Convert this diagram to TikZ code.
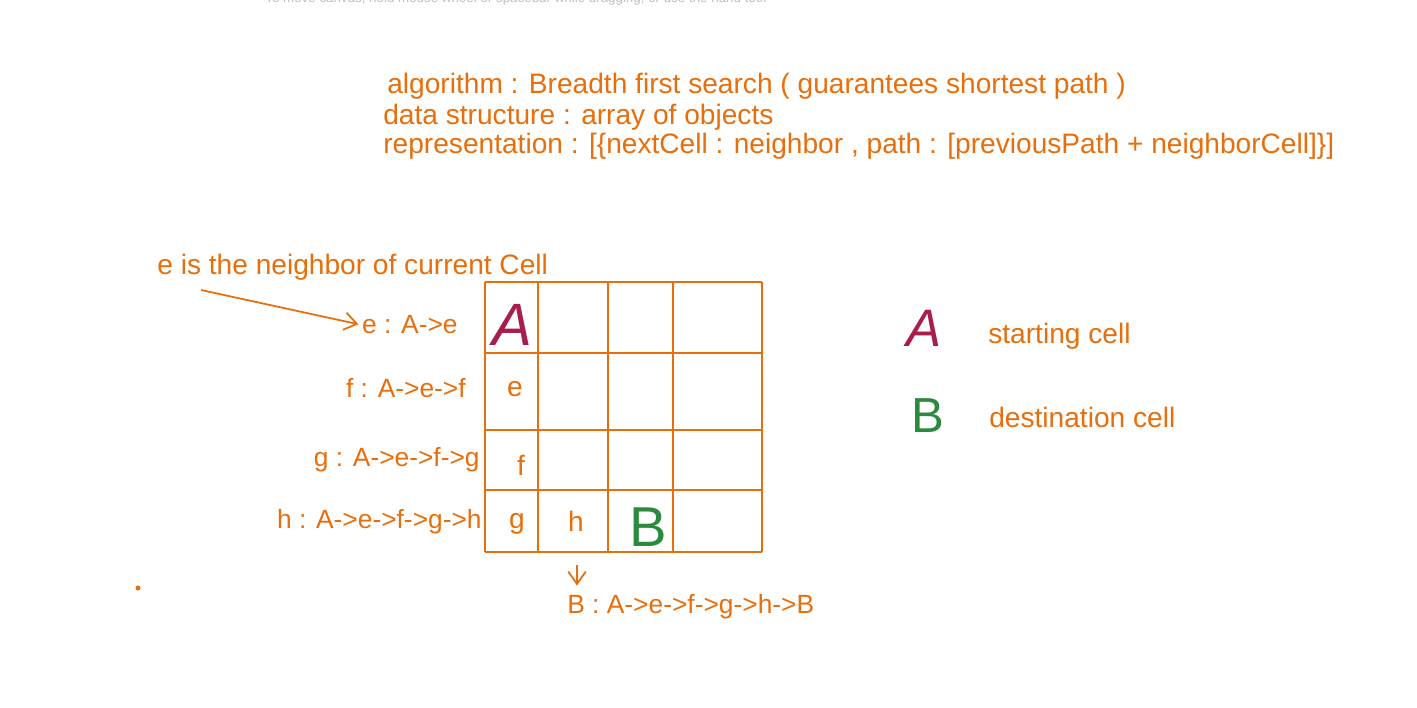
\documentclass[tikz,border=0pt]{standalone}
\usepackage{fontspec}
\setmainfont{Liberation Sans}
\usetikzlibrary{arrows.meta, positioning}
\definecolor{sketch}{RGB}{232,110,12}
\definecolor{startc}{RGB}{166,30,77}
\definecolor{destc}{RGB}{43,138,62}
\definecolor{hint}{RGB}{190,190,190}
\def\txtSize{16}
% grid lines, in pixels
\def\colLines{485,538,608,673,762}
\def\rowLines{282,353,430,490,552}
\begin{document}
\begin{tikzpicture}[
    x=0.02cm, y=-0.02cm,
    >={Straight Barb[length=2.5mm,width=3.5mm]},
    every node/.style={inner sep=0pt, text=sketch},
    note/.style={anchor=west, font=\fontsize{\txtSize}{18}\selectfont},
    label/.style={anchor=east, font=\fontsize{15}{18}\selectfont},
    cell/.style={font=\fontsize{\txtSize}{18}\selectfont},
    bigA/.style={text=startc, font=\fontsize{34}{36}\selectfont\itshape},
    bigB/.style={text=destc, font=\fontsize{32}{34}\selectfont},
    link/.style={draw=sketch, line width=1pt, ->}
]
\useasboundingbox (0,0) rectangle (1417,707);

\node[anchor=west, text=hint, font=\fontsize{7.6}{9}\selectfont] (hint) at (265,-1)
    {To move canvas, hold mouse wheel or spacebar while dragging, or use the hand tool};

% description
\node[note] (algo) at (387,86) {algorithm : Breadth first search ( guarantees shortest path )};
\node[note] (ds) at (383,117) {data structure : array of objects};
\node[note] (repr) at (383,146) {representation : [\{nextCell : neighbor , path : [previousPath + neighborCell]\}]};

% grid
\foreach \x in \colLines
    \draw[sketch, line width=1.2pt] (\x,282) -- (\x,552);
\foreach \y in \rowLines
    \draw[sketch, line width=1.2pt] (485,\y) -- (762,\y);

\node[bigA] (cellA) at (512,325) {A};
\node[cell] (cellE) at (515,389) {e};
\node[cell] (cellF) at (521,465) {f};
\node[cell] (cellG) at (517,524) {g};
\node[cell] (cellH) at (576,521) {h};
\node[bigB] (cellB) at (648,527) {B};

% paths on the left
\node[note] (comment) at (157,267) {e is the neighbor of current Cell};
\node[label] (pathE) at (458,325) {e : A->e};
\node[label] (pathF) at (466,388) {f : A->e->f};
\node[label] (pathG) at (480,460) {g : A->e->f->g};
\node[label] (pathH) at (482,522) {h : A->e->f->g->h};
\node[note, font=\fontsize{15}{18}\selectfont] (pathB) at (567,607) {B : A->e->f->g->h->B};

\coordinate (tail) at (201,290);
\draw[link, shorten >=2pt] (tail) -- (pathE.west);
\coordinate (drop) at (577,565);
\draw[link, shorten >=5pt] (drop) -- (drop |- pathB.north);

\fill[sketch] (138,588) circle (2.5);

% legend
\node[bigA, font=\fontsize{30}{32}\selectfont\itshape] (keyA) at (924,328) {A};
\node[note] (keyAtxt) at (988,336) {starting cell};
\node[bigB, font=\fontsize{28}{30}\selectfont] (keyB) at (928,416) {B};
\node[note] (keyBtxt) at (989,417) {destination cell};
\end{tikzpicture}
\end{document}
